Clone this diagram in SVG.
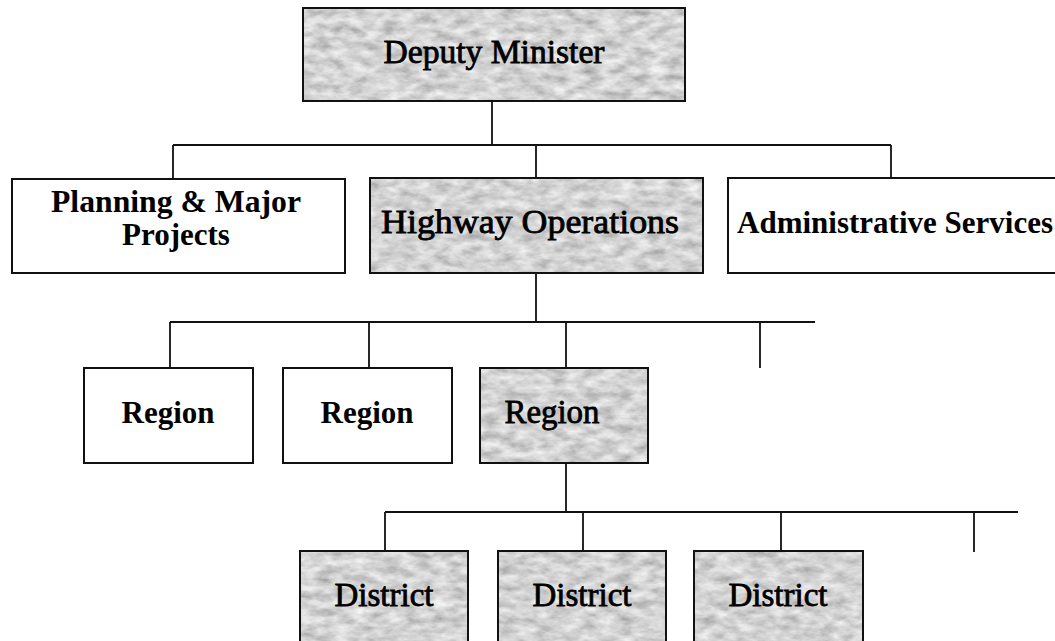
<svg xmlns="http://www.w3.org/2000/svg" width="1055" height="641" viewBox="0 0 1055 641">
  <defs>
    <filter id="tex" x="0" y="0" width="100%" height="100%" filterUnits="objectBoundingBox">
      <feTurbulence type="fractalNoise" baseFrequency="0.06 0.12" numOctaves="5" seed="7" result="n"/>
      <feColorMatrix in="n" type="matrix" values="0.7 0 0 0 0.3  0.7 0 0 0 0.3  0.7 0 0 0 0.3  0 0 0 0 1"/>
    </filter>
  </defs>
  <style>
    .box { fill: #ffffff; stroke: #111111; stroke-width: 2; }
    .frame { fill: none; stroke: #111111; stroke-width: 2; }
    .shade { fill: #a6a6a6; filter: url(#tex); }
    .bold { font-family: "Liberation Serif", "DejaVu Serif", serif; font-weight: bold; font-size: 31px; fill: #000; text-anchor: middle; }
    .reg { font-family: "Liberation Serif", "DejaVu Serif", serif; font-weight: normal; font-size: 33px; fill: #000; text-anchor: middle; stroke: #000; stroke-width: 0.8; }
    .conn { fill: none; stroke: #111111; stroke-width: 1.8; }
  </style>
  <rect width="1055" height="641" fill="#ffffff"/>

  <g id="connectors">
    <path class="conn" d="M492,101 V145 M173,145 H891 M173,145 V179 M536,145 V179 M891,145 V179"/>
    <path class="conn" d="M536,273 V322 M170,322 H815 M170,322 V368 M369,322 V368 M566,322 V368 M760,322 V368"/>
    <path class="conn" d="M566,463 V512 M385,512 H1018 M385,512 V551 M583,512 V551 M781,512 V551 M974,512 V552"/>
  </g>

  <g id="deputy-minister">
    <rect class="shade" x="303" y="8" width="382" height="93"/>
    <rect class="frame" x="303" y="8" width="382" height="93"/>
    <text class="reg" x="494" y="63" textLength="221" lengthAdjust="spacingAndGlyphs">Deputy Minister</text>
  </g>

  <g id="planning">
    <rect class="box" x="12" y="179" width="333" height="94"/>
    <text class="bold" x="176" y="212" textLength="250" lengthAdjust="spacingAndGlyphs">Planning &amp; Major</text>
    <text class="bold" x="176" y="245">Projects</text>
  </g>

  <g id="highway-operations">
    <rect class="shade" x="370" y="178" width="333" height="95"/>
    <rect class="frame" x="370" y="178" width="333" height="95"/>
    <text class="reg" x="530" y="233" textLength="298" lengthAdjust="spacingAndGlyphs">Highway Operations</text>
  </g>

  <g id="administrative-services">
    <rect class="box" x="728" y="178" width="340" height="95"/>
    <text class="bold" x="895" y="233" textLength="316" lengthAdjust="spacingAndGlyphs">Administrative Services</text>
  </g>

  <g id="region-1">
    <rect class="box" x="84" y="368" width="169" height="95"/>
    <text class="bold" x="168" y="423">Region</text>
  </g>
  <g id="region-2">
    <rect class="box" x="283" y="368" width="169" height="95"/>
    <text class="bold" x="367" y="423">Region</text>
  </g>
  <g id="region-3">
    <rect class="shade" x="480" y="368" width="168" height="95"/>
    <rect class="frame" x="480" y="368" width="168" height="95"/>
    <text class="reg" x="552" y="423" textLength="95" lengthAdjust="spacingAndGlyphs">Region</text>
  </g>

  <g id="district-1">
    <rect class="shade" x="300" y="551" width="168" height="100"/>
    <rect class="frame" x="300" y="551" width="168" height="100"/>
    <text class="reg" x="384" y="606" textLength="99" lengthAdjust="spacingAndGlyphs">District</text>
  </g>
  <g id="district-2">
    <rect class="shade" x="498" y="551" width="168" height="100"/>
    <rect class="frame" x="498" y="551" width="168" height="100"/>
    <text class="reg" x="582" y="606" textLength="99" lengthAdjust="spacingAndGlyphs">District</text>
  </g>
  <g id="district-3">
    <rect class="shade" x="694" y="551" width="169" height="100"/>
    <rect class="frame" x="694" y="551" width="169" height="100"/>
    <text class="reg" x="778" y="606" textLength="99" lengthAdjust="spacingAndGlyphs">District</text>
  </g>
</svg>
